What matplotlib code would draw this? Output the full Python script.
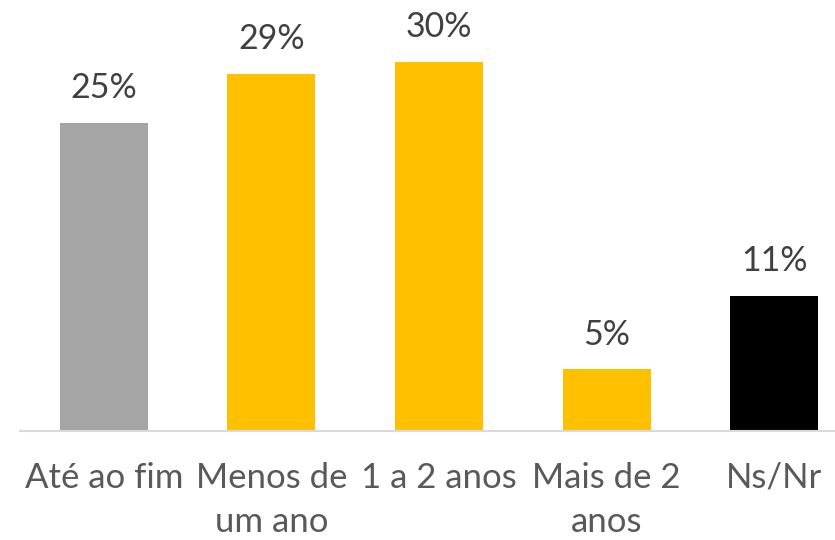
import matplotlib
matplotlib.use("Agg")
import matplotlib.pyplot as plt

categories = ["Até ao fim", "Menos de\num ano", "1 a 2 anos", "Mais de 2\nanos", "Ns/Nr"]
values = [25, 29, 30, 5, 11]
labels = ["25%", "29%", "30%", "5%", "11%"]
colors = ["#A5A5A5", "#FFC000", "#FFC000", "#FFC000", "#000000"]

plt.rcParams['font.family'] = ['Lato', 'DejaVu Sans']

fig = plt.figure(figsize=(8.35, 5.4), dpi=100)
W, H = 835, 540
left_px, right_px = 20, 858
base_px, top_px = 431, 37
ax = fig.add_axes([left_px / W, (H - base_px) / H, (right_px - left_px) / W, (base_px - top_px) / H])

x = list(range(len(categories)))
ax.bar(x, values, width=0.525, color=colors, zorder=2)
ax.set_xlim(-0.5, len(categories) - 0.5)
ax.set_ylim(0, 32)

for xi, v, lab in zip(x, values, labels):
    ax.annotate(lab, (xi, v), xytext=(0, 13.5), textcoords="offset points",
                ha="center", va="bottom", fontsize=24.5, color="#404040")

ax.set_xticks(x)
ax.set_xticklabels(categories, fontsize=25, color="#595959", linespacing=1.48)
ax.tick_params(axis='x', length=0, pad=22)
ax.set_yticks([])
for s in ["top", "right", "left"]:
    ax.spines[s].set_visible(False)
ax.spines["bottom"].set_color("#D9D9D9")
ax.spines["bottom"].set_linewidth(1.5)

fig.savefig("out.png", dpi=100)
